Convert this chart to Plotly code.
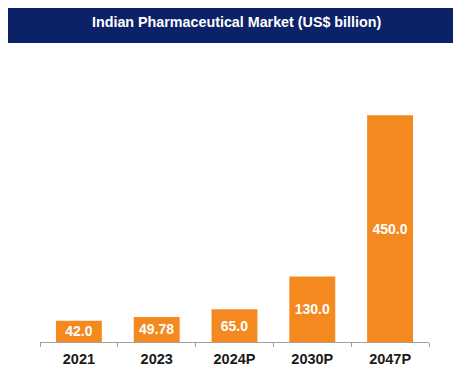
import plotly.graph_objects as go

categories = ["2021", "2023", "2024P", "2030P", "2047P"]
values = [42.0, 49.78, 65.0, 130.0, 450.0]
labels = ["42.0", "49.78", "65.0", "130.0", "450.0"]
title_text = "Indian Pharmaceutical Market (US$ billion)"

# page body has an 8px margin, so the figure is drawn offset by 8px
W, H = 453, 377
L, R, T, B = 32, 32, 82, 43
pw, ph = W - L - R, H - T - B

fig = go.Figure(go.Bar(
    x=categories, y=values, text=labels,
    textposition="inside", insidetextanchor="middle", constraintext="none",
    textfont=dict(family="Liberation Sans, Arial", size=14, color="white", weight="bold"),
    marker=dict(color="#f4891f", line=dict(width=0)),
    hoverinfo="skip",
))

def px_x(p):
    return (p - L) / pw

def px_y(p):
    return (H - B - p) / ph

shapes = [
    dict(type="rect", xref="paper", yref="paper", x0=px_x(0), x1=px_x(W), y0=px_y(35), y1=px_y(-4),
         fillcolor="#0c2268", line=dict(width=0), layer="below"),
]

fig.update_layout(
    width=W, height=H,
    margin=dict(l=L, r=R, t=T, b=B),
    paper_bgcolor="white", plot_bgcolor="white",
    showlegend=False, bargap=0.41,
    shapes=shapes,
    annotations=[dict(text=title_text, xref="paper", yref="paper", x=px_x(228), y=px_y(14),
                      showarrow=False, xanchor="center", yanchor="middle",
                      font=dict(family="Liberation Sans, Arial", size=14.3, color="white", weight="bold"))],
    xaxis=dict(type="category", tickson="boundaries", ticks="outside", ticklen=4, tickcolor="#a0a0a0",
               ticklabelstandoff=4,
               showline=True, linecolor="#a0a0a0", linewidth=1, showgrid=False,
               tickfont=dict(family="Liberation Sans, Arial", size=14.5, color="#1a1a1a", weight="bold")),
    yaxis=dict(range=[0, 500], visible=False, showgrid=False),
)

fig.write_html("out.html")
